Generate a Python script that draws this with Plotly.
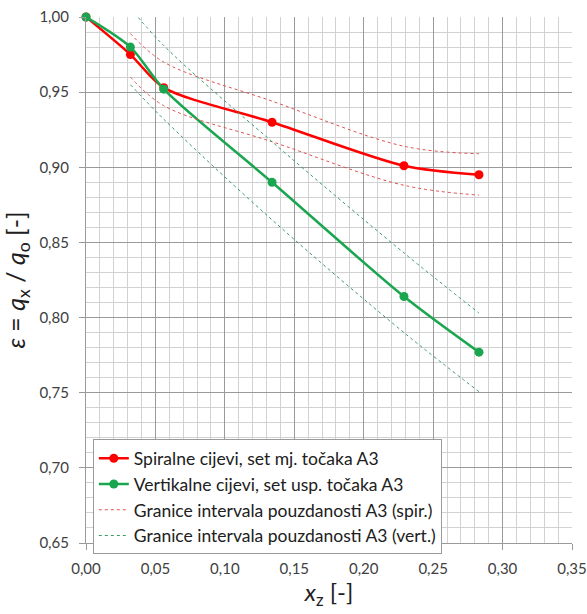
import plotly.graph_objects as go

# Podaci očitani s grafa
x_tocke = [0.0, 0.032, 0.056, 0.134, 0.229, 0.283]
eps_spir = [1.0, 0.975, 0.953, 0.930, 0.901, 0.895]
eps_vert = [1.0, 0.980, 0.952, 0.890, 0.814, 0.777]

# Granice intervala pouzdanosti (bez početne točke)
x_granice = [0.032, 0.056, 0.134, 0.229, 0.283]
spir_gornja = [0.989, 0.970, 0.944, 0.914, 0.909]
spir_donja = [0.960, 0.941, 0.917, 0.888, 0.8815]
vert_gornja = [1.006, 0.981, 0.917, 0.843, 0.803]
vert_donja = [0.955, 0.932, 0.865, 0.790, 0.7507]

crvena = '#ff0000'
zelena = '#1aa64f'
crvena_tocke = '#e05050'
zelena_tocke = '#3a9a6a'

fig = go.Figure()

# Glavne krivulje
fig.add_scatter(x=x_tocke, y=eps_spir, mode='lines+markers', name='Spiralne cijevi, set mj. točaka A3',
                line=dict(color=crvena, width=2.5, shape='spline', smoothing=0.8),
                marker=dict(size=9, color=crvena), cliponaxis=False)
fig.add_scatter(x=x_tocke, y=eps_vert, mode='lines+markers', name='Vertikalne cijevi, set usp. točaka A3',
                line=dict(color=zelena, width=2.5, shape='spline', smoothing=0.8),
                marker=dict(size=9, color=zelena), cliponaxis=False)

# Granice intervala
fig.add_scatter(x=x_granice, y=spir_donja, mode='lines', name='Granice intervala pouzdanosti A3 (spir.)',
                legendgroup='spir', line=dict(color=crvena_tocke, width=1, dash='dot', shape='spline'))
fig.add_scatter(x=x_granice, y=spir_gornja, mode='lines', showlegend=False,
                legendgroup='spir', line=dict(color=crvena_tocke, width=1, dash='dot', shape='spline'))
fig.add_scatter(x=x_granice, y=vert_donja, mode='lines', name='Granice intervala pouzdanosti A3 (vert.)',
                legendgroup='vert', line=dict(color=zelena_tocke, width=1, dash='dot', shape='spline'))
fig.add_scatter(x=x_granice, y=vert_gornja, mode='lines', showlegend=False,
                legendgroup='vert', line=dict(color=zelena_tocke, width=1, dash='dot', shape='spline'))

# Oformljenje osi
os_stil = dict(showgrid=True, gridcolor='#9a9a9a', gridwidth=1.2,
               showline=True, linecolor='#9a9a9a', linewidth=1.2,
               ticks='outside', ticklen=6, tickcolor='#9a9a9a', tickwidth=1.2,
               tickformat='.2f', tickfont=dict(size=15, color='#404040'),
               zeroline=False, automargin=False, ticklabeloverflow='allow',
               minor=dict(dtick=0.01, showgrid=True, gridcolor='#d2d2d2', gridwidth=1.2))

fig.update_xaxes(range=[0, 0.35], dtick=0.05, ticklabelstandoff=6,
                 title=dict(text='<i>x</i><sub>z</sub> [-]', font=dict(size=24, color='#202020'), standoff=8),
                 **os_stil)
fig.update_yaxes(range=[0.65, 1.0], dtick=0.05, ticklabelstandoff=7,
                 title=dict(text='<i>ε</i> = <i>q</i><sub>x</sub> / <i>q</i><sub>o</sub> [-]',
                            font=dict(size=25, color='#202020'), standoff=6),
                 **os_stil)

fig.update_layout(width=587, height=614, autosize=False,
                  margin=dict(l=86, r=15, t=17, b=71, pad=0),
                  plot_bgcolor='white', paper_bgcolor='white',
                  separators=', ',
                  font=dict(family='Lato', color='#202020'),
                  legend=dict(x=0.014, y=0.197, xanchor='left', yanchor='top',
                              bgcolor='white', bordercolor='#9a9a9a', borderwidth=1,
                              font=dict(size=17.5, color='#202020'),
                              itemwidth=30, tracegroupgap=0))

# Uklanjanje zadanog ruba stranice (8 px) da figura počinje u kutu prozora
fig.write_html("out.html", config={'displayModeBar': False},
               post_script="document.body.style.margin='0';")
